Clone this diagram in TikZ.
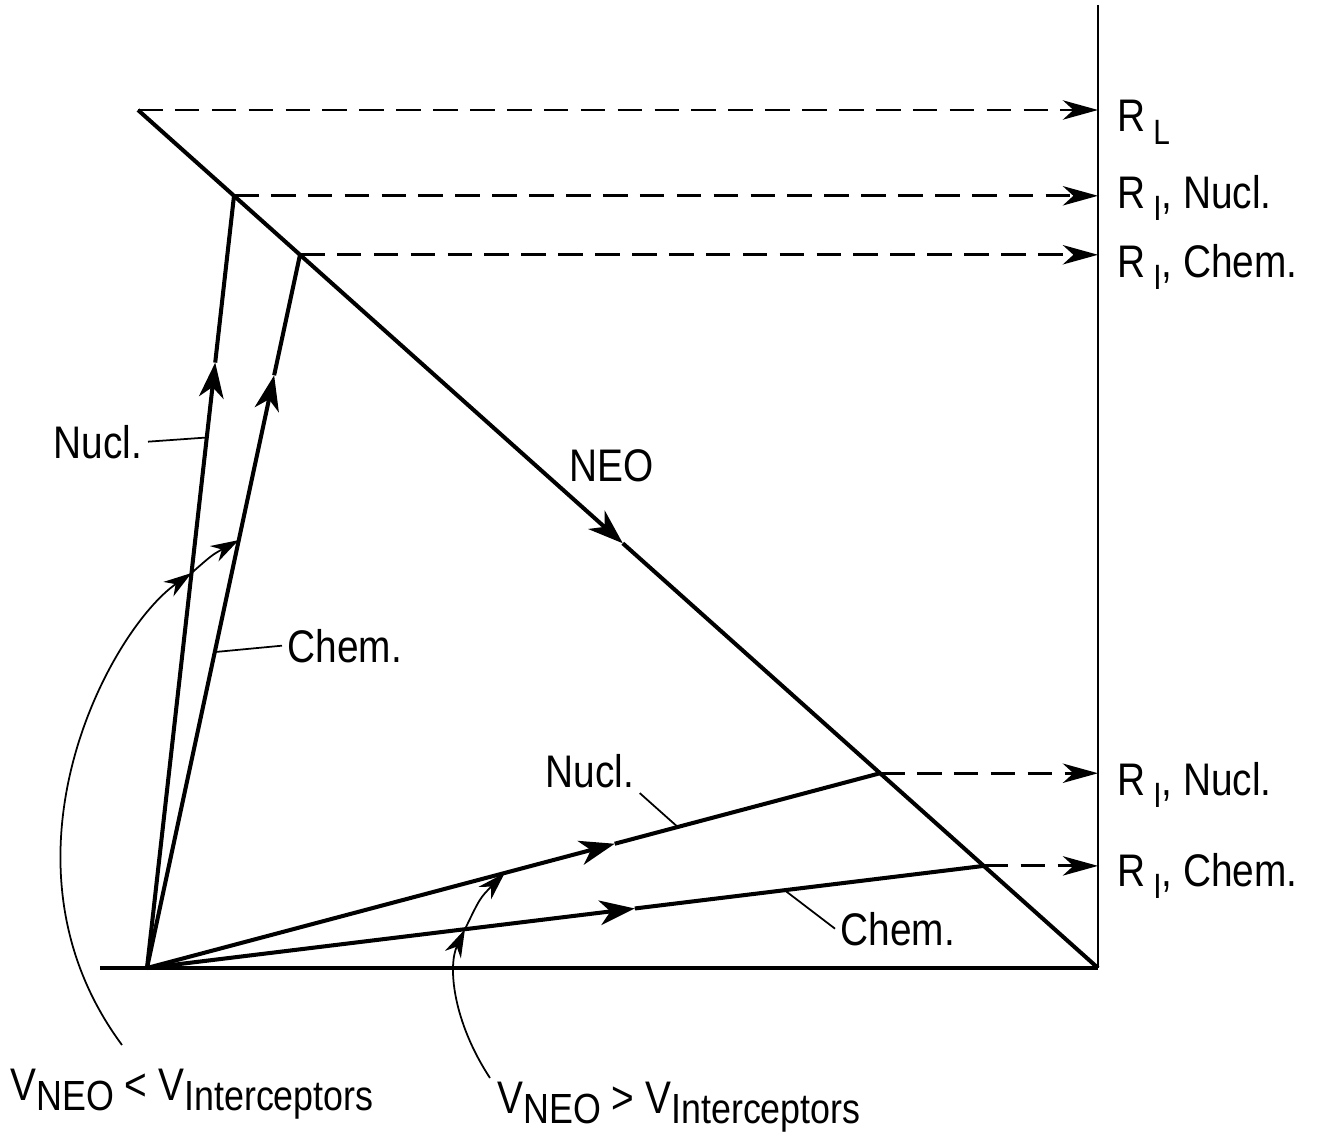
\documentclass[tikz,border=0pt]{standalone}
\usepackage{fontspec}
\setmainfont{Liberation Sans}[FakeStretch=0.85]
\usetikzlibrary{arrows.meta,calc}

\newcommand{\lowsub}[1]{\raisebox{-7pt}{\fontsize{20}{20}\selectfont #1}}
\newcommand{\vsub}[1]{\raisebox{-6pt}{\fontsize{24}{24}\selectfont #1}}

\tikzset{
    ray/.style={line width=2.3pt},
    trace/.style={line width=2.3pt, -{Stealth[length=20pt,width=14pt,inset=6pt]}},
    level/.style={line width=1.7pt, dash pattern=on 14pt off 7pt, -{Stealth[length=20pt,width=11pt,inset=6pt]}},
    leader/.style={line width=1pt},
    bendarrow/.style={line width=1pt, -{Stealth[length=16pt,width=10pt,inset=5pt]}},
    lbl/.style={font=\fontsize{26}{30}\selectfont, inner sep=3pt},
}

\begin{document}
\begin{tikzpicture}[x=0.02cm, y=-0.02cm]
    \useasboundingbox (0,0) rectangle (1319,1132);

    % frame
    \coordinate (O) at (147,968);
    \coordinate (base) at (100,968);
    \coordinate (corner) at (1098,968);
    \coordinate (axtop) at (1098,5);
    \coordinate (top) at (138,110);
    \draw[line width=1.4pt] (axtop) -- (corner);
    \draw[line width=1.9pt] (base) -- (corner);

    % NEO path and the hit points on it
    \coordinate (hitA) at ($(top)!0.1!(corner)$);
    \coordinate (hitB) at ($(top)!0.16875!(corner)$);
    \coordinate (hitC) at ($(top)!0.773!(corner)$);
    \coordinate (hitD) at ($(top)!0.881!(corner)$);
    \draw[trace] (top) -- ($(top)!0.505!(corner)$) coordinate (neomid);
    \draw[ray] (neomid) -- (corner);

    % interceptor paths
    \draw[trace] (O) -- ($(O)!0.784!(hitA)$) coordinate (tipA);
    \draw[ray] (tipA) -- (hitA);
    \draw[trace] (O) -- ($(O)!0.831!(hitB)$) coordinate (tipB);
    \draw[ray] (tipB) -- (hitB);
    \draw[trace] (O) -- ($(O)!0.638!(hitC)$) coordinate (tipC);
    \draw[ray] (tipC) -- (hitC);
    \draw[trace] (O) -- ($(O)!0.583!(hitD)$) coordinate (tipD);
    \draw[ray] (tipD) -- (hitD);

    % ranges
    \draw[level] (top) -- (top -| corner);
    \draw[level] (hitA) -- (hitA -| corner);
    \draw[level] (hitB) -- (hitB -| corner);
    \draw[level] (hitC) -- (hitC -| corner);
    \draw[level] (hitD) -- (hitD -| corner);

    \node[lbl, anchor=base west] (rL) at (1112,132) {R\,\lowsub{L}};
    \node[lbl, anchor=base west] (rNa) at (1112,208) {R\,\lowsub{I}, Nucl.};
    \node[lbl, anchor=base west] (rCa) at (1112,277) {R\,\lowsub{I}, Chem.};
    \node[lbl, anchor=base west] (rNb) at (1112,795) {R\,\lowsub{I}, Nucl.};
    \node[lbl, anchor=base west] (rCb) at (1112,886) {R\,\lowsub{I}, Chem.};

    % path labels
    \node[lbl] (neo) at (612,466) {NEO};
    \node[lbl, anchor=base east] (nuclA) at (148,458) {Nucl.};
    \node[lbl, anchor=base west] (chemA) at (282,662) {Chem.};
    \node[lbl, anchor=base west] (nuclB) at (540,787) {Nucl.};
    \node[lbl, anchor=base west] (chemB) at (835,945) {Chem.};
    \draw[leader] (nuclA.east) -- ($(O)!0.687!(hitA)$);
    \draw[leader] (chemA.west) -- ($(O)!0.443!(hitB)$);
    \draw[leader] (nuclB.south east) -- ($(O)!0.724!(hitC)$);
    \draw[leader] (chemB.west) -- ($(O)!0.762!(hitD)$);

    % velocity cases
    \node[lbl, anchor=base west] (vless) at (5,1100) {V\vsub{NEO} < V\vsub{Interceptors}};
    \node[lbl, anchor=base west] (vmore) at (492,1113) {V\vsub{NEO} > V\vsub{Interceptors}};

    \coordinate (ls) at (122,1045);
    \coordinate (xA) at ($(O)!0.5115!(hitA)$);
    \coordinate (xB) at ($(O)!0.600!(hitB)$);
    \draw[bendarrow] (ls) .. controls (-15,860) and (110,630) .. (xA);
    \draw[bendarrow] (xA) .. controls (212,555) .. (xB);

    \coordinate (rs) at (490,1078);
    \coordinate (xC) at ($(O)!0.380!(hitD)$);
    \coordinate (xD) at ($(O)!0.488!(hitC)$);
    \draw[bendarrow] (rs) .. controls (452,1020) and (448,965) .. (xC);
    \draw[bendarrow] (xC) .. controls (480,898) .. (xD);
\end{tikzpicture}
\end{document}
